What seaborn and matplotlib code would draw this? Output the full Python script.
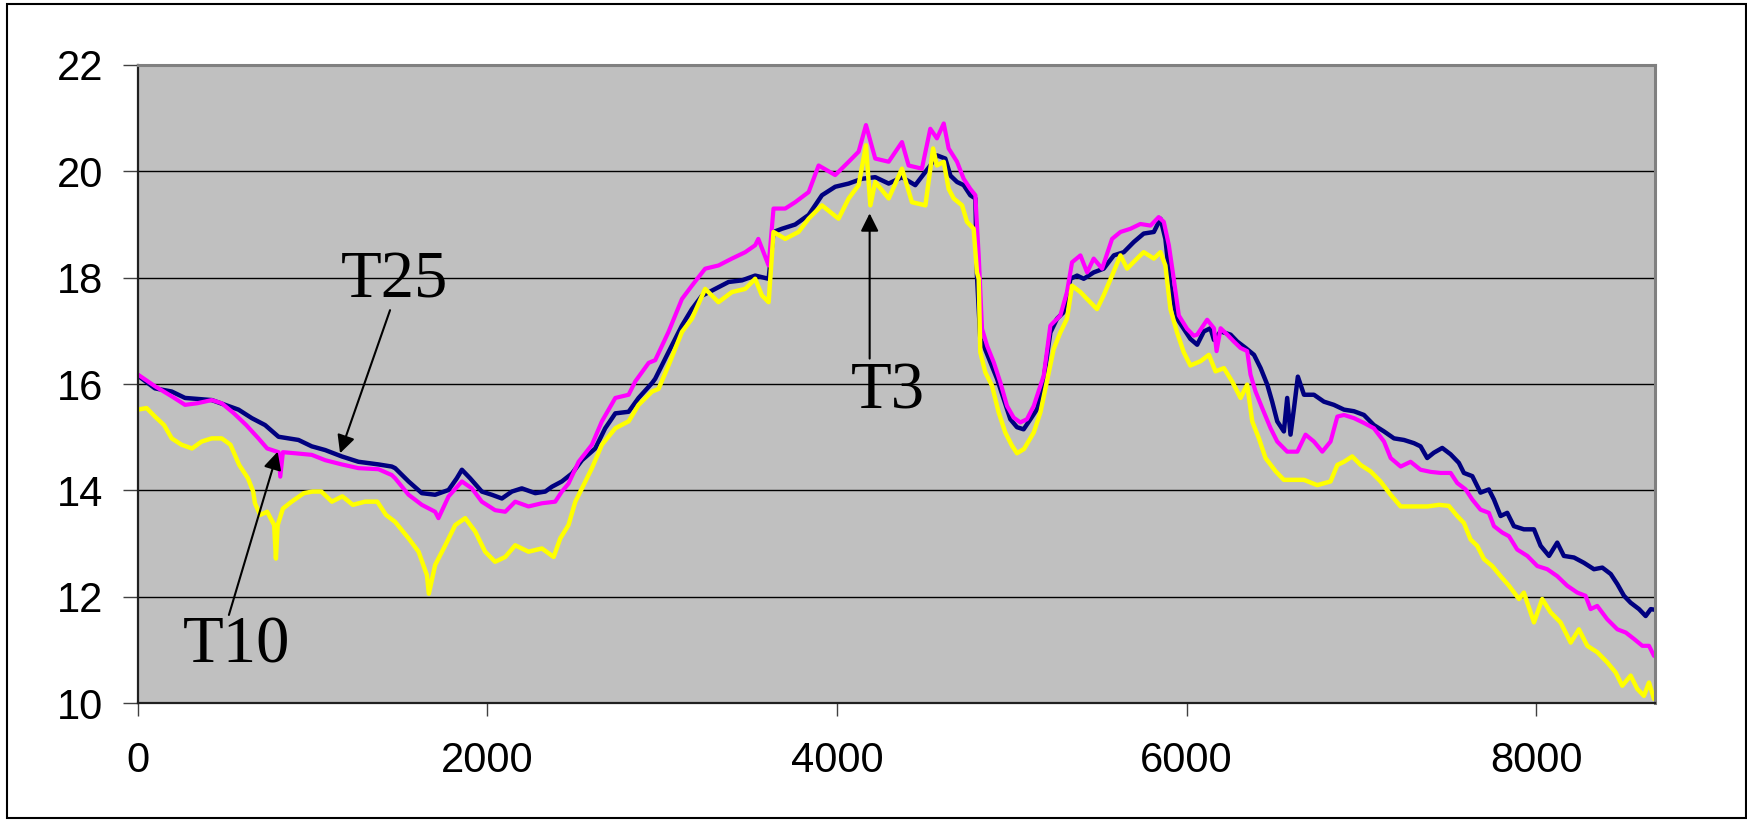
import matplotlib
matplotlib.use("Agg")
import matplotlib.pyplot as plt
import seaborn as sns
from matplotlib.patches import Rectangle

# --- T25 (navy) ---
t25_x = [0, 98, 194, 270, 423, 499, 576, 652, 728, 805, 919, 995, 1072, 1167, 1262, 1377, 1453,
         1472, 1549, 1625, 1701, 1778, 1825, 1854, 1901, 1968, 2025, 2083, 2140, 2197, 2274, 2331,
         2369, 2426, 2484, 2541, 2617, 2674, 2732, 2808, 2865, 2942, 2960, 3036, 3113, 3170, 3227,
         3303, 3380, 3456, 3532, 3609, 3637, 3685, 3761, 3838, 3914, 3990, 4067, 4143, 4219, 4296,
         4372, 4448, 4534, 4572, 4620, 4649, 4687, 4725, 4763, 4792, 4801, 4820, 4840, 4878, 4916,
         4954, 4992, 5030, 5068, 5107, 5145, 5183, 5221, 5259, 5297, 5336, 5374, 5412, 5469, 5526,
         5584, 5641, 5698, 5755, 5813, 5851, 5879, 5908, 5946, 5984, 6022, 6061, 6099, 6137, 6157,
         6195, 6252, 6290, 6338, 6386, 6424, 6462, 6490, 6519, 6557, 6576, 6595, 6615, 6637, 6672,
         6729, 6786, 6843, 6901, 6958, 7015, 7072, 7130, 7187, 7244, 7301, 7339, 7377, 7415, 7463,
         7511, 7558, 7587, 7635, 7682, 7730, 7759, 7797, 7835, 7873, 7930, 7988, 8026, 8074, 8121,
         8159, 8217, 8274, 8331, 8379, 8427, 8465, 8503, 8541, 8589, 8627, 8656, 8675]
t25_y = [16.16, 15.92, 15.86, 15.74, 15.70, 15.61, 15.52, 15.36, 15.23, 15.01, 14.95, 14.83, 14.76,
         14.64, 14.54, 14.49, 14.45, 14.42, 14.17, 13.95, 13.92, 14.01, 14.23, 14.39, 14.23, 13.98,
         13.92, 13.85, 13.98, 14.04, 13.95, 13.98, 14.07, 14.17, 14.32, 14.57, 14.79, 15.17, 15.45,
         15.48, 15.74, 16.02, 16.10, 16.60, 17.10, 17.41, 17.66, 17.79, 17.92, 17.95, 18.04, 17.98,
         18.86, 18.92, 19.00, 19.18, 19.55, 19.71, 19.77, 19.86, 19.89, 19.77, 19.89, 19.74, 20.11,
         20.30, 20.24, 19.92, 19.80, 19.74, 19.55, 19.49, 18.04, 16.85, 16.72, 16.41, 16.10, 15.72,
         15.34, 15.19, 15.15, 15.34, 15.53, 16.10, 16.97, 17.23, 17.35, 17.98, 18.04, 17.98, 18.10,
         18.17, 18.42, 18.48, 18.67, 18.83, 18.86, 19.11, 18.73, 17.85, 17.23, 17.04, 16.85, 16.74,
         16.99, 17.05, 16.83, 16.99, 16.93, 16.80, 16.68, 16.55, 16.30, 15.99, 15.67, 15.30, 15.11,
         15.74, 15.05, 15.55, 16.14, 15.80, 15.80, 15.67, 15.61, 15.52, 15.49, 15.42, 15.23, 15.11,
         14.98, 14.95, 14.89, 14.83, 14.61, 14.71, 14.80, 14.68, 14.52, 14.33, 14.27, 13.96, 14.02,
         13.83, 13.52, 13.58, 13.33, 13.27, 13.27, 12.96, 12.77, 13.02, 12.77, 12.74, 12.64, 12.52,
         12.55, 12.43, 12.24, 12.02, 11.89, 11.77, 11.64, 11.77, 11.76]

# --- T10 (magenta) ---
t10_x = [0, 98, 194, 270, 340, 423, 480, 550, 620, 690, 740, 805, 815, 830, 900, 995, 1072, 1167,
         1262, 1377, 1453, 1472, 1549, 1625, 1701, 1720, 1778, 1854, 1911, 1968, 2044, 2102, 2159,
         2235, 2312, 2388, 2426, 2464, 2522, 2598, 2655, 2732, 2808, 2846, 2923, 2960, 3036, 3113,
         3170, 3246, 3322, 3399, 3475, 3532, 3550, 3609, 3637, 3704, 3761, 3838, 3895, 3990, 4067,
         4124, 4166, 4219, 4296, 4372, 4410, 4486, 4534, 4572, 4611, 4639, 4687, 4725, 4763, 4792,
         4801, 4811, 4830, 4859, 4897, 4935, 4973, 5011, 5049, 5087, 5126, 5183, 5221, 5278, 5316,
         5345, 5393, 5431, 5469, 5517, 5574, 5622, 5679, 5736, 5794, 5841, 5870, 5899, 5927, 5956,
         6003, 6041, 6061, 6118, 6157, 6172, 6195, 6233, 6271, 6309, 6347, 6366, 6395, 6433, 6481,
         6519, 6576, 6634, 6681, 6729, 6777, 6824, 6863, 6901, 6958, 7015, 7072, 7130, 7168, 7225,
         7282, 7339, 7397, 7454, 7511, 7549, 7597, 7635, 7682, 7730, 7759, 7806, 7845, 7892, 7950,
         8007, 8064, 8121, 8178, 8236, 8283, 8312, 8350, 8407, 8465, 8513, 8560, 8608, 8646, 8675]
t10_y = [16.18, 15.96, 15.77, 15.61, 15.64, 15.70, 15.64, 15.45, 15.23, 14.98, 14.79, 14.72, 14.26,
         14.72, 14.70, 14.67, 14.57, 14.49, 14.42, 14.40, 14.29, 14.23, 13.92, 13.73, 13.60, 13.48,
         13.89, 14.17, 14.04, 13.79, 13.63, 13.60, 13.79, 13.70, 13.76, 13.79, 13.98, 14.13, 14.54,
         14.86, 15.30, 15.74, 15.80, 16.05, 16.40, 16.45, 16.98, 17.60, 17.85, 18.17, 18.23, 18.36,
         18.48, 18.61, 18.73, 18.23, 19.30, 19.30, 19.42, 19.61, 20.11, 19.93, 20.18, 20.37, 20.87,
         20.24, 20.18, 20.55, 20.11, 20.05, 20.80, 20.62, 20.90, 20.43, 20.18, 19.86, 19.67, 19.55,
         18.98, 18.42, 17.04, 16.72, 16.41, 16.03, 15.59, 15.37, 15.28, 15.34, 15.59, 16.16, 17.10,
         17.29, 17.73, 18.29, 18.42, 18.10, 18.36, 18.17, 18.73, 18.86, 18.92, 19.01, 18.98, 19.14,
         19.05, 18.61, 17.98, 17.29, 17.04, 16.91, 16.93, 17.21, 17.05, 16.62, 17.05, 16.93, 16.80,
         16.68, 16.62, 16.18, 15.86, 15.55, 15.17, 14.92, 14.73, 14.73, 15.05, 14.92, 14.73, 14.92,
         15.39, 15.42, 15.36, 15.27, 15.17, 14.92, 14.61, 14.45, 14.54, 14.39, 14.35, 14.33, 14.33,
         14.14, 14.02, 13.83, 13.64, 13.58, 13.33, 13.21, 13.14, 12.89, 12.77, 12.58, 12.52, 12.39,
         12.21, 12.08, 12.02, 11.77, 11.83, 11.58, 11.39, 11.33, 11.21, 11.08, 11.08, 10.89]

# --- T3 (yellow) ---
t3_x = [0, 50, 98, 150, 194, 250, 310, 365, 423, 480, 530, 580, 630, 660, 670, 700, 740, 780, 790,
        800, 830, 880, 950, 1000, 1050, 1110, 1170, 1230, 1300, 1370, 1420, 1472, 1549, 1606, 1654,
        1665, 1701, 1759, 1816, 1873, 1930, 1987, 2044, 2102, 2159, 2235, 2312, 2379, 2417, 2464,
        2503, 2541, 2598, 2655, 2732, 2808, 2865, 2942, 2979, 3036, 3113, 3170, 3246, 3322, 3399,
        3475, 3532, 3570, 3609, 3637, 3704, 3780, 3838, 3914, 4009, 4067, 4124, 4166, 4191, 4219,
        4296, 4372, 4429, 4506, 4550, 4572, 4611, 4639, 4668, 4716, 4744, 4782, 4801, 4811, 4820,
        4849, 4887, 4925, 4963, 5000, 5030, 5070, 5126, 5164, 5212, 5240, 5278, 5316, 5345, 5393,
        5431, 5488, 5526, 5574, 5622, 5660, 5717, 5755, 5813, 5851, 5879, 5908, 5946, 5984, 6022,
        6080, 6128, 6166, 6214, 6261, 6309, 6347, 6376, 6414, 6452, 6510, 6557, 6615, 6672, 6748,
        6824, 6863, 6901, 6948, 6996, 7053, 7110, 7168, 7225, 7301, 7378, 7445, 7501, 7549, 7587,
        7625, 7663, 7702, 7749, 7797, 7845, 7902, 7930, 7988, 8035, 8083, 8140, 8198, 8245, 8293,
        8350, 8407, 8455, 8493, 8541, 8579, 8617, 8646, 8675]
t3_y = [15.52, 15.55, 15.39, 15.23, 14.98, 14.86, 14.79, 14.92, 14.98, 14.98, 14.86, 14.48, 14.23,
        13.98, 13.76, 13.54, 13.60, 13.35, 12.72, 13.35, 13.66, 13.79, 13.95, 13.98, 13.98, 13.79,
        13.89, 13.73, 13.79, 13.79, 13.54, 13.41, 13.10, 12.85, 12.41, 12.06, 12.60, 12.97, 13.35,
        13.48, 13.23, 12.85, 12.66, 12.75, 12.97, 12.85, 12.91, 12.75, 13.10, 13.35, 13.79, 14.04,
        14.42, 14.86, 15.17, 15.30, 15.61, 15.86, 15.91, 16.35, 16.98, 17.23, 17.79, 17.54, 17.73,
        17.79, 17.98, 17.67, 17.54, 18.86, 18.73, 18.86, 19.11, 19.36, 19.11, 19.49, 19.74, 20.49,
        19.36, 19.80, 19.49, 20.05, 19.42, 19.36, 20.43, 20.11, 20.18, 19.67, 19.49, 19.36, 19.05,
        18.92, 18.10, 17.98, 16.60, 16.22, 15.97, 15.47, 15.09, 14.85, 14.70, 14.78, 15.09, 15.47,
        16.22, 16.66, 16.97, 17.23, 17.85, 17.73, 17.60, 17.41, 17.67, 18.04, 18.42, 18.17, 18.36,
        18.48, 18.36, 18.48, 18.23, 17.41, 16.97, 16.60, 16.35, 16.43, 16.55, 16.24, 16.30, 16.05,
        15.74, 15.99, 15.30, 14.98, 14.61, 14.36, 14.20, 14.20, 14.20, 14.10, 14.17, 14.48, 14.54,
        14.64, 14.48, 14.36, 14.17, 13.92, 13.70, 13.70, 13.70, 13.73, 13.71, 13.52, 13.39, 13.08,
        12.96, 12.71, 12.58, 12.39, 12.21, 11.96, 12.08, 11.52, 11.96, 11.71, 11.52, 11.14, 11.39,
        11.08, 10.96, 10.77, 10.58, 10.33, 10.52, 10.27, 10.14, 10.39, 10.08]

y_ticks = [10, 12, 14, 16, 18, 20, 22]
x_ticks = [0, 2000, 4000, 6000, 8000]

sns.set_style("white")
plt.rcParams["font.family"] = ["Liberation Sans", "DejaVu Sans"]

fig = plt.figure(figsize=(17.47, 8.21), dpi=100)
ax = fig.add_axes([0.0789, 0.1434, 0.8684, 0.7775])
ax.set_facecolor("#C0C0C0")

# draw order: navy under, yellow on top
sns.lineplot(x=t25_x, y=t25_y, ax=ax, color="#000080", linewidth=3.2, sort=False, estimator=None)
sns.lineplot(x=t10_x, y=t10_y, ax=ax, color="#FF00FF", linewidth=3.0, sort=False, estimator=None)
sns.lineplot(x=t3_x, y=t3_y, ax=ax, color="#FFFF00", linewidth=3.2, sort=False, estimator=None)

ax.set_xlim(0, 8680)
ax.set_ylim(10, 22)
ax.set_xticks(x_ticks)
ax.set_yticks(y_ticks)
ax.set_xlabel("")
ax.set_ylabel("")
ax.grid(axis="y", color="black", linewidth=1.0)
ax.grid(axis="x", visible=False)
ax.set_axisbelow(True)

ax.tick_params(axis="y", direction="out", length=11, width=1, color="#404040",
               labelsize=30, labelcolor="black", pad=14, left=True)
ax.tick_params(axis="x", direction="out", length=9, width=1, color="#404040",
               labelsize=30, labelcolor="black", pad=18, bottom=True)

for side in ["left", "bottom"]:
    ax.spines[side].set_color("#202020")
    ax.spines[side].set_linewidth(1.6)
for side in ["top", "right"]:
    ax.spines[side].set_color("#808080")
    ax.spines[side].set_linewidth(2.2)

# labels with arrows
arrow_kw = dict(arrowstyle="-|>", color="black", lw=1.5, mutation_scale=27,
                shrinkA=0, shrinkB=0)
serif = ["Liberation Serif", "DejaVu Serif"]

ax.annotate("", xy=(1157, 14.70), xytext=(1443, 17.39), arrowprops=arrow_kw)
ax.text(1467, 17.94, "T25", fontsize=48, family=serif, color="black", ha="center", va="center")

ax.annotate("", xy=(800, 14.73), xytext=(521, 11.66), arrowprops=arrow_kw)
ax.text(563, 11.08, "T10", fontsize=48, family=serif, color="black", ha="center", va="center")

ax.annotate("", xy=(4187, 19.21), xytext=(4187, 16.48), arrowprops=arrow_kw)
ax.text(4289, 15.85, "T3", fontsize=48, family=serif, color="black", ha="center", va="center")

# outer frame
fig.patches.append(Rectangle((7 / 1747, 3 / 821), 1739 / 1747, 814 / 821,
                             transform=fig.transFigure, fill=False,
                             edgecolor="black", linewidth=1.5))

fig.savefig("out.png", dpi=100)
